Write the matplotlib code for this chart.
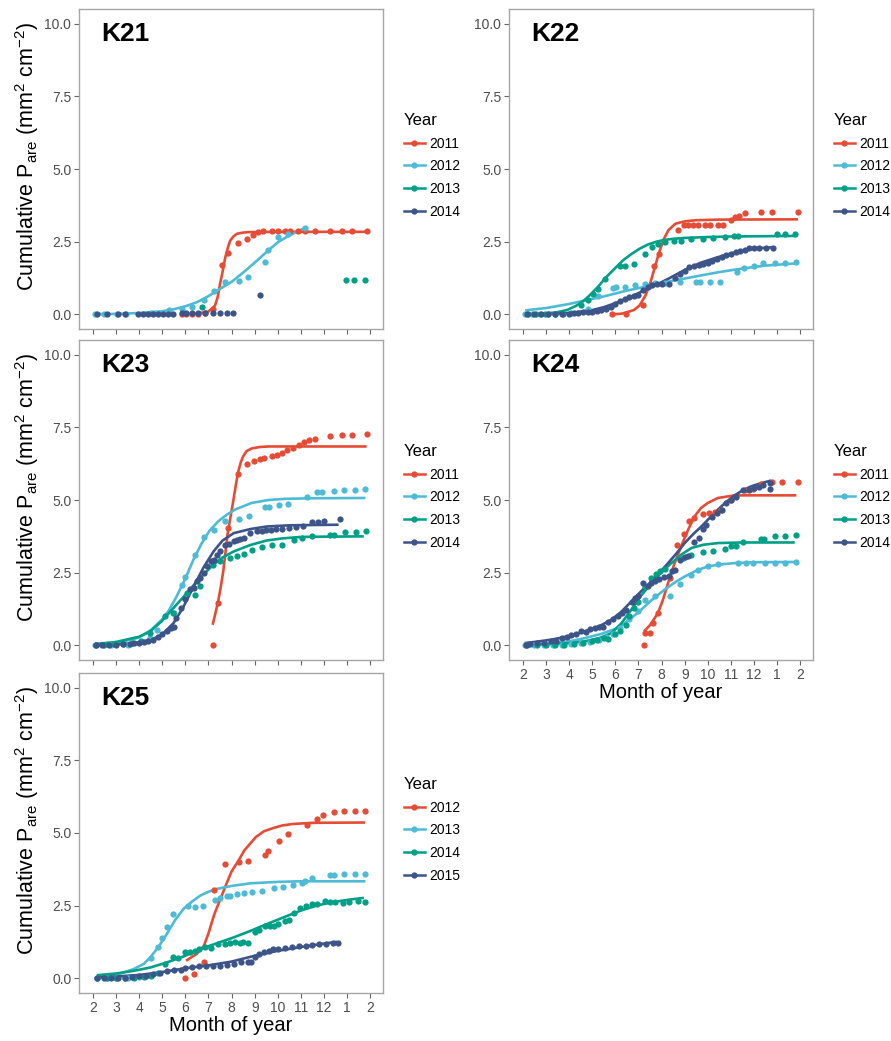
import matplotlib
matplotlib.use("Agg")
import matplotlib.pyplot as plt
from matplotlib.lines import Line2D

plt.rcParams['font.family'] = ['Liberation Sans', 'DejaVu Sans']
plt.rcParams['mathtext.default'] = 'regular'

# ---------------- data ----------------
month_ticks = [2, 3, 4, 5, 6, 7, 8, 9, 10, 11, 12, 13, 14]
month_labels = ['2', '3', '4', '5', '6', '7', '8', '9', '10', '11', '12', '1', '2']
y_ticks = [0.0, 2.5, 5.0, 7.5, 10.0]
y_labels = ['0.0', '2.5', '5.0', '7.5', '10.0']

years_a = ['2011', '2012', '2013', '2014']
years_b = ['2012', '2013', '2014', '2015']

# K21
k21_2011_x = [5.84, 6.05, 6.27, 6.56, 6.85, 7.21, 7.60, 7.83, 8.26, 8.68, 8.94, 9.16, 9.38, 9.73, 10.02, 10.31, 10.53, 10.89, 11.18, 11.61, 12.26, 12.76, 13.19, 13.85]
k21_2011_y = [0.0, 0.02, 0.02, 0.03, 0.05, 0.19, 1.71, 2.12, 2.45, 2.60, 2.73, 2.82, 2.86, 2.86, 2.86, 2.86, 2.86, 2.86, 2.86, 2.86, 2.86, 2.86, 2.86, 2.86]
k21_2011_fx = [5.84, 6.5, 7.0, 7.28, 7.4, 7.5, 7.62, 7.73, 7.84, 7.94, 8.08, 8.22, 8.45, 8.72, 10.0, 13.85]
k21_2011_fy = [0.01, 0.03, 0.1, 0.3, 0.6, 1.05, 1.5, 1.97, 2.3, 2.54, 2.68, 2.77, 2.81, 2.83, 2.84, 2.84]

k21_2012_x = [2.10, 2.50, 3.04, 3.44, 4.50, 5.28, 5.85, 6.30, 6.79, 7.23, 7.72, 8.32, 8.73, 9.44, 9.57, 10.02, 10.45, 11.18]
k21_2012_y = [0.0, 0.0, 0.0, 0.0, 0.05, 0.15, 0.19, 0.27, 0.50, 0.82, 1.12, 1.15, 1.28, 1.80, 2.20, 2.65, 2.75, 2.97]
k21_2012_fx = [2.1, 3.0, 4.0, 5.0, 5.5, 6.0, 6.5, 7.0, 7.5, 8.0, 8.5, 9.0, 9.5, 10.0, 10.5, 11.19]
k21_2012_fy = [0.01, 0.02, 0.05, 0.11, 0.18, 0.28, 0.42, 0.63, 0.88, 1.12, 1.44, 1.78, 2.14, 2.48, 2.72, 2.98]

k21_2013_x = [6.72, 12.94, 13.31, 13.75]
k21_2013_y = [0.27, 1.17, 1.17, 1.17]

k21_2014_x = [2.16, 2.63, 3.10, 3.39, 3.96, 4.18, 4.40, 4.61, 4.83, 5.04, 5.26, 5.48, 5.84, 6.05, 6.27, 6.56, 6.85, 7.21, 7.50, 7.79, 8.07, 9.23]
k21_2014_y = [0.0, 0.0, 0.0, 0.0, 0.0, 0.0, 0.0, 0.0, 0.0, 0.0, 0.0, 0.0, 0.04, 0.04, 0.04, 0.04, 0.05, 0.06, 0.06, 0.06, 0.06, 0.68]

# K22
k22_2011_x = [5.87, 6.47, 7.19, 7.66, 7.89, 8.71, 8.97, 9.14, 9.36, 9.58, 9.86, 10.08, 10.44, 10.66, 11.02, 11.16, 11.34, 11.62, 12.32, 12.78, 13.90]
k22_2011_y = [0.0, 0.0, 0.31, 1.66, 2.08, 2.91, 3.08, 3.08, 3.08, 3.08, 3.08, 3.08, 3.08, 3.08, 3.23, 3.34, 3.40, 3.48, 3.52, 3.52, 3.52]
k22_2011_fx = [5.85, 6.3, 6.8, 7.05, 7.3, 7.5, 7.7, 7.9, 8.1, 8.3, 8.6, 9.0, 9.5, 10.5, 13.9]
k22_2011_fy = [0.0, 0.03, 0.15, 0.31, 0.65, 1.05, 1.6, 2.15, 2.6, 2.9, 3.12, 3.2, 3.24, 3.26, 3.27]

k22_2012_x = [2.10, 2.40, 2.75, 3.10, 3.40, 4.81, 5.25, 5.90, 6.04, 6.40, 6.83, 7.27, 7.70, 8.13, 8.78, 9.50, 9.65, 10.08, 10.51, 11.28, 11.55, 12.00, 12.39, 12.90, 13.33, 13.83]
k22_2012_y = [0.0, 0.0, 0.0, 0.0, 0.0, 0.19, 0.65, 0.92, 0.96, 0.96, 1.0, 1.05, 1.08, 1.08, 1.11, 1.11, 1.11, 1.13, 1.13, 1.45, 1.60, 1.68, 1.78, 1.78, 1.78, 1.82]
k22_2012_fx = [2.1, 3.0, 4.0, 4.67, 5.5, 6.5, 7.56, 8.5, 9.5, 10.44, 11.5, 12.5, 13.9]
k22_2012_fy = [0.14, 0.22, 0.36, 0.48, 0.62, 0.82, 1.0, 1.16, 1.31, 1.45, 1.58, 1.68, 1.76]

k22_2013_x = [2.22, 2.58, 2.94, 3.37, 3.73, 4.09, 4.53, 4.81, 5.03, 5.25, 5.54, 6.18, 6.40, 6.80, 7.27, 7.60, 7.84, 8.13, 8.54, 8.85, 9.29, 9.79, 10.23, 10.73, 11.13, 11.31, 13.01, 13.33, 13.79]
k22_2013_y = [0.0, 0.0, 0.0, 0.0, 0.02, 0.05, 0.31, 0.50, 0.71, 0.88, 1.23, 1.65, 1.68, 1.74, 2.08, 2.31, 2.43, 2.49, 2.52, 2.54, 2.58, 2.60, 2.62, 2.66, 2.69, 2.69, 2.77, 2.77, 2.77]
k22_2013_fx = [2.14, 3.0, 3.44, 3.9, 4.31, 4.6, 4.88, 5.25, 5.6, 6.0, 6.33, 6.7, 7.05, 7.4, 7.77, 8.1, 8.49, 9.0, 9.93, 11.0, 13.83]
k22_2013_fy = [0.02, 0.04, 0.07, 0.15, 0.3, 0.45, 0.65, 0.95, 1.28, 1.6, 1.86, 2.08, 2.26, 2.4, 2.5, 2.56, 2.6, 2.63, 2.66, 2.68, 2.7]

k22_2014_x = [2.2, 2.5, 2.8, 3.1, 3.4, 3.7, 4.0, 4.2, 4.4, 4.6, 4.8, 5.0, 5.2, 5.4, 5.6, 5.8, 6.0, 6.2, 6.4, 6.6, 6.8, 7.0, 7.2, 7.4, 7.6, 7.8, 8.0, 8.3, 8.6, 8.8, 9.0, 9.2, 9.4, 9.6, 9.8, 10.0, 10.2, 10.4, 10.6, 10.8, 11.0, 11.2, 11.4, 11.6, 11.8, 12.0, 12.2, 12.5, 12.8]
k22_2014_y = [0.0, 0.0, 0.0, 0.02, 0.02, 0.03, 0.03, 0.05, 0.05, 0.08, 0.1, 0.1, 0.12, 0.15, 0.2, 0.25, 0.35, 0.45, 0.54, 0.6, 0.65, 0.68, 0.85, 0.95, 1.0, 1.05, 1.03, 1.05, 1.25, 1.38, 1.5, 1.63, 1.66, 1.7, 1.74, 1.78, 1.84, 1.9, 1.98, 2.03, 2.08, 2.13, 2.18, 2.23, 2.27, 2.3, 2.3, 2.3, 2.3]
k22_2014_fx = [2.1, 3.0, 4.0, 5.0, 5.5, 6.11, 6.8, 7.56, 8.3, 9.0, 9.7, 10.44, 11.2, 11.88, 12.82]
k22_2014_fy = [0.0, 0.01, 0.05, 0.15, 0.25, 0.42, 0.66, 0.94, 1.23, 1.53, 1.78, 1.97, 2.14, 2.26, 2.31]

# K23
k23_2011_x = [7.19, 7.43, 7.83, 8.27, 8.66, 8.96, 9.22, 9.39, 9.74, 9.97, 10.18, 10.40, 10.66, 10.90, 11.15, 11.34, 11.62, 12.27, 12.76, 13.21, 13.86]
k23_2011_y = [0.0, 1.47, 4.04, 5.88, 6.25, 6.33, 6.42, 6.44, 6.52, 6.56, 6.62, 6.71, 6.79, 6.88, 6.98, 7.05, 7.11, 7.19, 7.24, 7.25, 7.27]
k23_2011_fx = [7.18, 7.3, 7.42, 7.53, 7.64, 7.73, 7.82, 7.95, 8.07, 8.18, 8.29, 8.4, 8.5, 8.65, 8.86, 9.2, 9.59, 13.84]
k23_2011_fy = [0.71, 1.1, 1.52, 2.0, 2.55, 3.15, 3.8, 4.4, 4.95, 5.5, 5.98, 6.3, 6.5, 6.68, 6.77, 6.82, 6.84, 6.84]

k23_2012_x = [2.10, 2.80, 3.50, 4.48, 4.77, 5.49, 5.85, 6.00, 6.40, 6.82, 7.22, 7.73, 8.31, 8.74, 9.46, 9.60, 10.04, 10.43, 11.26, 11.70, 11.91, 12.42, 12.85, 13.36, 13.79]
k23_2012_y = [0.0, 0.0, 0.02, 0.25, 0.54, 1.11, 2.09, 2.37, 3.12, 3.73, 3.98, 4.27, 4.35, 4.46, 4.75, 4.75, 4.82, 4.87, 5.10, 5.26, 5.27, 5.32, 5.33, 5.36, 5.38]
k23_2012_fx = [2.1, 3.0, 4.0, 4.54, 5.0, 5.26, 5.6, 6.0, 6.35, 6.7, 7.05, 7.43, 7.8, 8.15, 8.87, 9.6, 10.31, 11.5, 13.79]
k23_2012_fy = [0.02, 0.08, 0.27, 0.55, 0.9, 1.17, 1.65, 2.3, 2.95, 3.5, 3.95, 4.27, 4.5, 4.67, 4.9, 5.0, 5.04, 5.06, 5.07]

k23_2013_x = [2.15, 2.5, 2.9, 3.3, 3.7, 4.1, 4.48, 5.1, 5.48, 6.06, 6.43, 6.65, 7.2, 7.51, 7.95, 8.24, 8.52, 8.88, 9.32, 9.75, 10.18, 10.72, 11.05, 11.46, 12.27, 12.42, 12.92, 13.38, 13.81]
k23_2013_y = [0.02, 0.03, 0.05, 0.05, 0.08, 0.15, 0.42, 1.0, 1.11, 1.8, 1.74, 2.03, 2.75, 2.9, 3.0, 3.06, 3.14, 3.27, 3.4, 3.46, 3.46, 3.61, 3.69, 3.76, 3.81, 3.81, 3.89, 3.89, 3.92]
k23_2013_fx = [2.1, 3.0, 4.0, 4.48, 5.0, 5.5, 6.07, 6.6, 7.22, 7.6, 8.09, 8.8, 9.53, 10.2, 10.98, 12.0, 13.72]
k23_2013_fy = [0.05, 0.12, 0.3, 0.48, 0.85, 1.3, 1.8, 2.3, 2.78, 3.02, 3.23, 3.45, 3.61, 3.68, 3.73, 3.74, 3.75]

k23_2014_x = [2.15, 2.4, 2.7, 3.0, 3.3, 3.6, 3.8, 4.0, 4.2, 4.4, 4.6, 4.8, 5.0, 5.2, 5.4, 5.5, 5.6, 5.8, 6.0, 6.2, 6.36, 6.5, 6.62, 6.8, 6.94, 7.1, 7.22, 7.38, 7.51, 7.7, 7.9, 8.09, 8.25, 8.38, 8.55, 8.8, 9.1, 9.3, 9.5, 9.7, 9.9, 10.2, 10.5, 10.8, 11.1, 11.48, 11.75, 11.99, 12.71]
k23_2014_y = [0.0, 0.0, 0.02, 0.02, 0.05, 0.05, 0.08, 0.1, 0.12, 0.15, 0.2, 0.3, 0.4, 0.5, 0.6, 0.65, 0.95, 1.3, 1.6, 1.95, 1.97, 2.2, 2.32, 2.5, 2.72, 2.9, 2.95, 3.1, 3.23, 3.45, 3.5, 3.58, 3.62, 3.66, 3.7, 3.85, 3.92, 3.95, 3.97, 3.98, 4.0, 4.02, 4.05, 4.08, 4.12, 4.26, 4.25, 4.27, 4.33]
k23_2014_fx = [2.1, 3.0, 4.0, 4.6, 5.0, 5.49, 5.9, 6.36, 6.8, 7.22, 7.6, 8.09, 8.8, 9.53, 10.5, 12.63]
k23_2014_fy = [0.0, 0.03, 0.1, 0.22, 0.38, 0.77, 1.3, 2.03, 2.7, 3.23, 3.6, 3.86, 4.0, 4.09, 4.13, 4.15]

# K24
k24_2011_x = [7.22, 7.27, 7.48, 7.65, 7.86, 8.35, 8.68, 8.97, 9.18, 9.40, 9.79, 10.04, 10.33, 10.59, 10.99, 11.60, 11.96, 12.32, 12.78, 13.21, 13.88]
k24_2011_y = [0.0, 0.44, 0.42, 0.76, 1.12, 2.32, 3.46, 3.84, 4.28, 4.38, 4.52, 4.55, 4.58, 4.67, 4.99, 5.36, 5.38, 5.56, 5.61, 5.62, 5.62]
k24_2011_fx = [7.24, 7.5, 7.84, 8.05, 8.28, 8.55, 8.85, 9.15, 9.43, 9.7, 10.0, 10.44, 11.16, 13.83]
k24_2011_fy = [0.48, 0.7, 1.11, 1.55, 2.14, 2.8, 3.41, 3.98, 4.44, 4.72, 4.9, 5.07, 5.16, 5.16]

k24_2012_x = [2.1, 2.5, 2.9, 3.3, 3.7, 4.1, 4.5, 4.9, 5.3, 5.6, 5.9, 6.2, 6.6, 7.0, 7.27, 7.7, 8.35, 8.78, 9.29, 9.58, 10.01, 10.44, 11.31, 11.66, 11.95, 12.46, 12.9, 13.33, 13.83]
k24_2012_y = [0.0, 0.0, 0.0, 0.0, 0.02, 0.05, 0.08, 0.12, 0.2, 0.3, 0.4, 0.6, 0.9, 1.2, 1.57, 1.69, 1.69, 2.12, 2.43, 2.6, 2.74, 2.8, 2.83, 2.83, 2.83, 2.85, 2.85, 2.85, 2.87]
k24_2012_fx = [2.07, 3.0, 4.0, 4.67, 5.4, 6.11, 6.6, 7.12, 7.6, 8.13, 8.6, 9.0, 9.5, 10.0, 10.6, 11.16, 12.0, 13.83]
k24_2012_fy = [0.02, 0.05, 0.14, 0.25, 0.4, 0.6, 0.88, 1.23, 1.58, 1.92, 2.18, 2.37, 2.57, 2.72, 2.79, 2.83, 2.86, 2.87]

k24_2013_x = [2.2, 2.6, 3.0, 3.4, 3.8, 4.2, 4.6, 5.0, 5.2, 5.5, 5.7, 6.0, 6.2, 6.45, 6.6, 6.8, 7.0, 7.3, 7.56, 7.75, 7.92, 8.13, 8.93, 9.29, 9.79, 10.23, 10.73, 11.02, 11.24, 11.52, 12.32, 12.45, 12.9, 13.33, 13.83]
k24_2013_y = [0.0, 0.0, 0.02, 0.02, 0.03, 0.05, 0.1, 0.15, 0.2, 0.25, 0.22, 0.4, 0.5, 0.7, 1.0, 1.3, 1.5, 2.0, 2.32, 2.45, 2.55, 2.63, 3.0, 3.12, 3.2, 3.23, 3.33, 3.43, 3.43, 3.54, 3.67, 3.67, 3.75, 3.77, 3.81]
k24_2013_fx = [2.07, 3.0, 4.0, 4.67, 5.3, 5.82, 6.25, 6.69, 7.1, 7.56, 8.0, 8.42, 8.85, 9.29, 9.8, 10.44, 11.5, 13.76]
k24_2013_fy = [0.02, 0.04, 0.08, 0.14, 0.25, 0.42, 0.75, 1.23, 1.7, 2.14, 2.52, 2.83, 3.12, 3.35, 3.46, 3.52, 3.54, 3.54]

k24_2014_x = [2.14, 2.3, 2.6, 2.9, 3.2, 3.45, 3.7, 3.9, 4.1, 4.3, 4.5, 4.74, 4.9, 5.1, 5.3, 5.46, 5.7, 5.9, 6.1, 6.3, 6.47, 6.7, 6.83, 7.0, 7.19, 7.4, 7.55, 7.7, 7.9, 8.1, 8.3, 8.45, 8.6, 8.8, 9.0, 9.14, 9.4, 9.6, 9.8, 9.93, 10.2, 10.4, 10.6, 10.8, 11.0, 11.2, 11.52, 11.8, 12.0, 12.2, 12.4, 12.68, 12.7]
k24_2014_y = [0.02, 0.05, 0.08, 0.1, 0.15, 0.17, 0.25, 0.3, 0.35, 0.4, 0.5, 0.46, 0.55, 0.6, 0.62, 0.65, 0.8, 0.9, 1.0, 1.1, 1.23, 1.5, 1.63, 1.7, 2.15, 2.05, 2.15, 2.2, 2.3, 2.35, 2.4, 2.55, 2.6, 2.95, 3.05, 3.09, 3.55, 3.7, 4.0, 4.15, 4.4, 4.55, 4.65, 4.9, 5.0, 5.1, 5.35, 5.35, 5.4, 5.45, 5.5, 5.59, 5.38]
k24_2014_fx = [2.07, 2.6, 3.23, 4.0, 4.67, 5.3, 5.82, 6.25, 6.69, 7.1, 7.56, 8.0, 8.28, 8.65, 9.0, 9.36, 9.72, 10.1, 10.44, 10.8, 11.16, 11.5, 11.88, 12.3, 12.75]
k24_2014_fy = [0.08, 0.13, 0.2, 0.32, 0.48, 0.66, 0.88, 1.15, 1.51, 1.85, 2.2, 2.58, 2.83, 3.17, 3.52, 3.82, 4.09, 4.4, 4.67, 4.94, 5.16, 5.33, 5.47, 5.58, 5.67]

# K25
k25_2012_x = [5.97, 6.39, 6.82, 7.24, 7.72, 8.32, 8.73, 9.43, 9.59, 10.03, 10.45, 11.26, 11.69, 11.94, 12.42, 12.85, 13.36, 13.79]
k25_2012_y = [0.0, 0.14, 0.55, 3.03, 3.93, 4.01, 4.03, 4.23, 4.37, 4.71, 4.97, 5.27, 5.49, 5.61, 5.72, 5.74, 5.74, 5.75]
k25_2012_fx = [6.03, 6.5, 6.8, 7.0, 7.25, 7.5, 7.75, 8.0, 8.3, 8.55, 9.05, 9.4, 9.8, 10.2, 10.65, 11.5, 13.77]
k25_2012_fy = [0.61, 0.85, 1.12, 1.55, 2.2, 2.7, 3.2, 3.68, 4.05, 4.4, 4.86, 5.06, 5.17, 5.26, 5.31, 5.35, 5.36]

k25_2013_x = [2.17, 2.6, 3.0, 3.5, 4.0, 4.52, 4.8, 4.98, 5.22, 5.48, 6.13, 6.43, 6.77, 7.27, 7.51, 7.8, 7.95, 8.23, 8.52, 8.88, 9.32, 9.82, 10.23, 10.66, 11.05, 11.19, 11.48, 12.25, 12.42, 12.85, 13.36, 13.79]
k25_2013_y = [0.0, 0.0, 0.0, 0.0, 0.05, 0.71, 1.07, 1.4, 1.78, 2.22, 2.5, 2.47, 2.5, 2.7, 2.77, 2.85, 2.85, 2.9, 2.94, 2.96, 3.02, 3.1, 3.16, 3.21, 3.27, 3.36, 3.46, 3.57, 3.57, 3.59, 3.59, 3.59]
k25_2013_fx = [2.17, 3.0, 3.76, 4.2, 4.48, 4.85, 5.2, 5.55, 5.92, 6.3, 6.65, 7.0, 7.37, 8.0, 8.81, 10.0, 10.98, 13.79]
k25_2013_fy = [0.03, 0.12, 0.32, 0.5, 0.72, 1.1, 1.53, 2.0, 2.39, 2.65, 2.85, 2.98, 3.08, 3.18, 3.27, 3.32, 3.34, 3.34]

k25_2014_x = [2.2, 2.6, 3.0, 3.4, 3.8, 4.2, 4.5, 4.8, 5.12, 5.48, 5.7, 5.98, 6.2, 6.41, 6.6, 6.85, 7.1, 7.43, 7.7, 7.95, 8.15, 8.35, 8.51, 8.7, 9.01, 9.2, 9.45, 9.65, 9.85, 10.02, 10.31, 10.5, 10.7, 10.96, 11.2, 11.46, 11.7, 12.04, 12.25, 12.47, 12.8, 13.1, 13.45, 13.75]
k25_2014_y = [0.02, 0.02, 0.02, 0.03, 0.03, 0.05, 0.1, 0.2, 0.5, 0.75, 0.72, 0.9, 0.92, 0.95, 1.0, 1.07, 1.05, 1.18, 1.2, 1.22, 1.24, 1.22, 1.24, 1.22, 1.58, 1.65, 1.81, 1.8, 1.82, 1.87, 1.99, 2.0, 2.25, 2.42, 2.5, 2.56, 2.55, 2.65, 2.62, 2.62, 2.6, 2.62, 2.65, 2.62]
k25_2014_fx = [2.17, 3.0, 3.76, 4.5, 5.2, 6.0, 6.65, 7.4, 8.09, 8.8, 9.53, 10.25, 10.98, 11.7, 12.42, 13.1, 13.72]
k25_2014_fy = [0.11, 0.17, 0.26, 0.38, 0.55, 0.78, 1.01, 1.22, 1.41, 1.63, 1.87, 2.1, 2.33, 2.51, 2.63, 2.71, 2.77]

k25_2015_x = [2.2, 2.5, 2.8, 3.1, 3.4, 3.7, 4.0, 4.3, 4.6, 4.9, 5.2, 5.5, 5.8, 6.0, 6.3, 6.6, 6.9, 7.2, 7.5, 7.8, 8.1, 8.4, 8.7, 8.85, 9.0, 9.2, 9.4, 9.6, 9.8, 10.0, 10.3, 10.6, 10.9, 11.2, 11.5, 11.8, 12.1, 12.4, 12.6]
k25_2015_y = [0.0, 0.0, 0.02, 0.02, 0.03, 0.05, 0.08, 0.1, 0.15, 0.2, 0.25, 0.28, 0.3, 0.35, 0.38, 0.42, 0.42, 0.42, 0.42, 0.45, 0.5, 0.55, 0.58, 0.55, 0.75, 0.85, 0.92, 0.95, 1.0, 1.02, 1.05, 1.08, 1.1, 1.12, 1.15, 1.18, 1.2, 1.22, 1.22]
k25_2015_fx = [2.2, 3.0, 4.0, 5.0, 6.0, 7.0, 8.0, 9.0, 10.0, 11.0, 12.0, 12.56]
k25_2015_fy = [0.03, 0.07, 0.12, 0.22, 0.35, 0.45, 0.58, 0.78, 0.95, 1.08, 1.2, 1.26]

colors = ['#E64B35', '#4DBBD5', '#00A087', '#3C5488']

panels = [
    ('K21', years_a, [(k21_2011_x, k21_2011_y, k21_2011_fx, k21_2011_fy),
                      (k21_2012_x, k21_2012_y, k21_2012_fx, k21_2012_fy),
                      (k21_2013_x, k21_2013_y, None, None),
                      (k21_2014_x, k21_2014_y, None, None)],
     [79, 9], True, False),
    ('K22', years_a, [(k22_2011_x, k22_2011_y, k22_2011_fx, k22_2011_fy),
                      (k22_2012_x, k22_2012_y, k22_2012_fx, k22_2012_fy),
                      (k22_2013_x, k22_2013_y, k22_2013_fx, k22_2013_fy),
                      (k22_2014_x, k22_2014_y, k22_2014_fx, k22_2014_fy)],
     [509, 9], False, False),
    ('K23', years_a, [(k23_2011_x, k23_2011_y, k23_2011_fx, k23_2011_fy),
                      (k23_2012_x, k23_2012_y, k23_2012_fx, k23_2012_fy),
                      (k23_2013_x, k23_2013_y, k23_2013_fx, k23_2013_fy),
                      (k23_2014_x, k23_2014_y, k23_2014_fx, k23_2014_fy)],
     [79, 340], True, False),
    ('K24', years_a, [(k24_2011_x, k24_2011_y, k24_2011_fx, k24_2011_fy),
                      (k24_2012_x, k24_2012_y, k24_2012_fx, k24_2012_fy),
                      (k24_2013_x, k24_2013_y, k24_2013_fx, k24_2013_fy),
                      (k24_2014_x, k24_2014_y, k24_2014_fx, k24_2014_fy)],
     [509, 340], False, True),
    ('K25', years_b, [(k25_2012_x, k25_2012_y, k25_2012_fx, k25_2012_fy),
                      (k25_2013_x, k25_2013_y, k25_2013_fx, k25_2013_fy),
                      (k25_2014_x, k25_2014_y, k25_2014_fx, k25_2014_fy),
                      (k25_2015_x, k25_2015_y, k25_2015_fx, k25_2015_fy)],
     [79, 673], True, True),
]

W, H = 891, 1041
fig = plt.figure(figsize=(W / 100, H / 100), dpi=100)
fig.patch.set_facecolor('white')

AW, AH = 304, 320
grey_txt = '#4D4D4D'
frame_col = '#A6A6A6'

for name, yrs, series, (px, py), show_ylab, show_xlab in panels:
    ax = fig.add_axes([px / W, 1 - (py + AH) / H, AW / W, AH / H])
    for i, (sx, sy, fx, fy) in enumerate(series):
        ax.plot(sx, sy, 'o', ms=4.5, color=colors[i], mec='none', zorder=3)
        if fx is not None:
            ax.plot(fx, fy, '-', lw=1.9, color=colors[i], zorder=2,
                    solid_capstyle='butt')
    ax.set_xlim(1.4, 14.55)
    ax.set_ylim(-0.5, 10.5)
    ax.set_xticks(month_ticks)
    ax.set_yticks(y_ticks)
    ax.set_yticklabels(y_labels)
    if show_xlab:
        ax.set_xticklabels(month_labels)
        ax.set_xlabel('Month of year', fontsize=14.5, labelpad=1)
    else:
        ax.set_xticklabels([])
    if show_ylab:
        ax.set_ylabel('Cumulative P$_{are}$ (mm$^2$ cm$^{-2}$)', fontsize=15.5)
        ax.yaxis.set_label_coords(-0.125, 0.54)
    ax.tick_params(axis='both', direction='out', length=3.5, width=0.8,
                   colors='#666666', labelcolor=grey_txt, labelsize=10, pad=2)
    for sp in ax.spines.values():
        sp.set_color(frame_col)
        sp.set_linewidth(1.0)
    ax.text(0.072, 0.96, name, transform=ax.transAxes, fontsize=19,
            fontweight='bold', va='top', ha='left')
    handles = [Line2D([], [], color=colors[i], lw=1.8, marker='o', ms=3.5)
               for i in range(4)]
    ax.legend(handles, yrs, title='Year', loc='center left',
              bbox_to_anchor=(1.05, 0.51), frameon=False, alignment='left',
              fontsize=10, title_fontsize=12, handlelength=1.5,
              handletextpad=0.3, labelspacing=0.62, borderaxespad=0)

fig.savefig('out.png', dpi=100)
